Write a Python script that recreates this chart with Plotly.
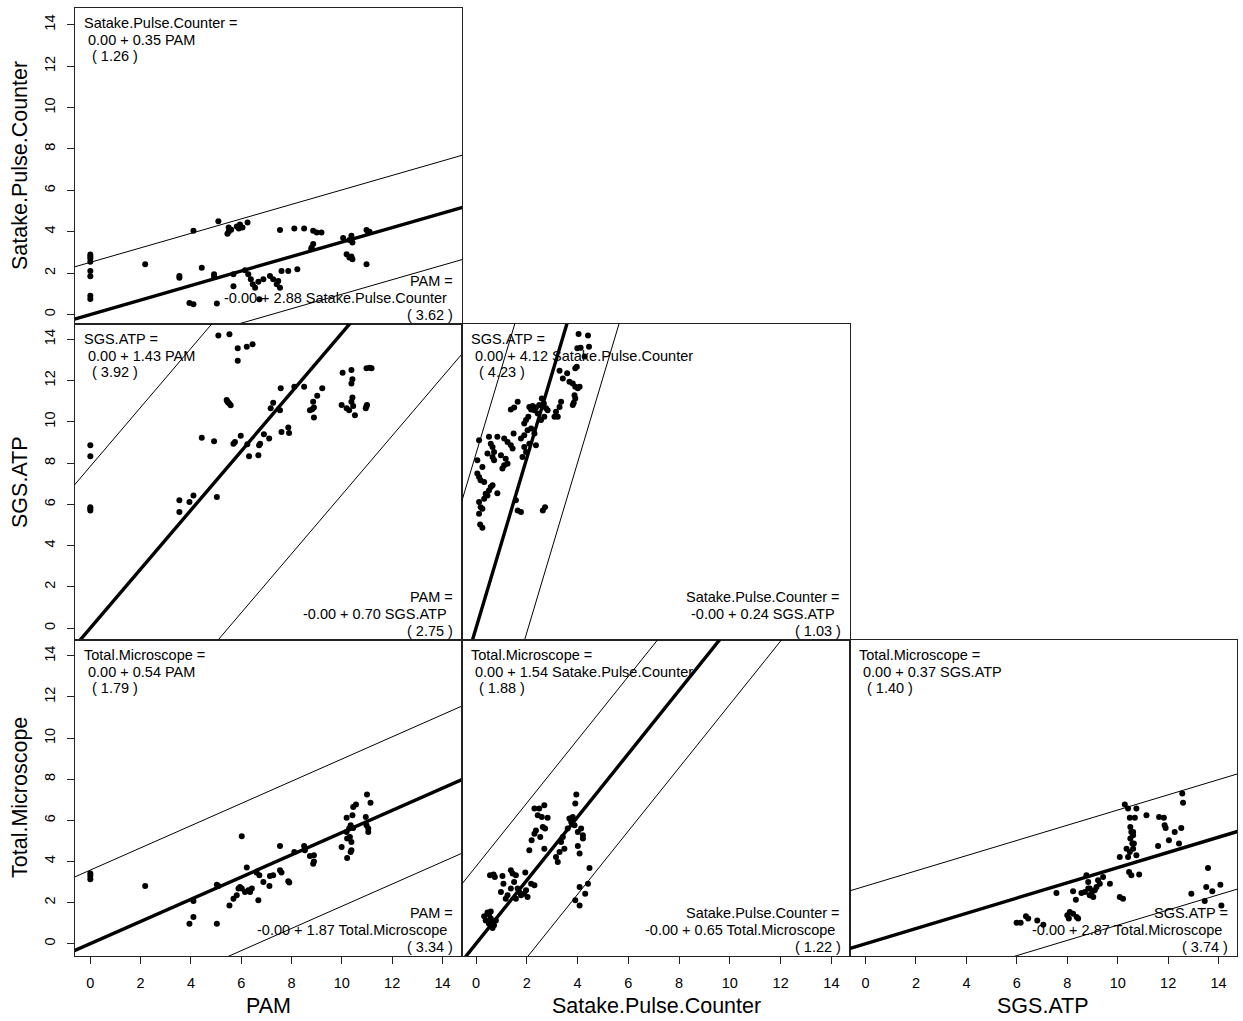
import plotly.graph_objects as go

# ---------------- data ----------------
var_names = ["PAM", "Satake.Pulse.Counter", "SGS.ATP", "Total.Microscope"]
tick_vals = [0, 2, 4, 6, 8, 10, 12, 14]

# Panel A: x = PAM, y = Satake.Pulse.Counter
a_x = [0, 0, 0, 0, 0, 0, 0, 0,
       2.18, 3.54, 3.54, 4.10, 3.94, 4.10, 4.43, 4.92, 4.92, 5.03, 5.09,
       5.45, 5.50, 5.60, 5.50, 5.82, 5.95, 6.05, 6.25, 5.90, 5.69, 5.69,
       6.15, 6.28, 6.38, 6.46, 6.55, 6.72, 6.68, 6.88,
       7.14, 7.27, 7.41, 7.54, 7.47, 7.54, 7.60, 7.87, 8.23, 8.11, 8.50,
       8.86, 9.00, 9.19, 8.80, 8.86, 8.78,
       10.05, 10.38, 10.42, 10.30, 10.19, 10.30, 10.42, 10.38, 10.98,
       10.98, 11.10, 11.05]
a_y = [2.90, 2.80, 2.70, 2.55, 2.10, 1.85, 0.90, 0.75,
       2.43, 1.86, 1.78, 4.05, 0.56, 0.49, 2.26, 1.94, 1.81, 0.53, 4.50,
       3.90, 4.00, 4.10, 4.20, 4.25, 4.35, 4.20, 4.45, 4.15, 1.94, 1.37,
       2.14, 1.94, 1.70, 1.46, 1.29, 0.73, 1.58, 1.70,
       1.86, 1.70, 1.46, 1.29, 1.62, 4.08, 2.10, 2.10, 2.19, 4.16, 4.16,
       4.05, 3.96, 3.96, 3.24, 3.40, 3.16,
       3.69, 3.80, 3.48, 3.60, 2.91, 2.75, 2.67, 2.80, 2.43,
       4.08, 4.00, 3.95]

# Panel B: x = PAM, y = SGS.ATP
b_x = [0, 0, 0, 0, 0,
       3.54, 3.94, 4.10, 3.54, 4.43, 4.92, 5.03, 5.09, 5.53,
       5.86, 6.22, 6.45, 5.86, 5.42, 5.47, 5.52, 5.58, 5.45,
       5.69, 5.75, 5.98, 6.24, 6.31, 6.68, 6.71, 6.75, 6.90, 7.11,
       7.17, 7.27, 7.54, 7.57, 7.60, 7.87, 7.90, 8.11, 8.50,
       8.73, 8.86, 8.89, 8.89, 8.82, 9.02, 9.22,
       10.03, 10.38, 10.42, 10.38, 9.99, 10.19, 10.29, 10.38, 10.42, 10.45, 10.52,
       10.98, 11.11, 11.18, 10.95, 10.98, 11.00]
b_y = [8.86, 8.33, 5.86, 5.78, 5.70,
       6.19, 6.11, 6.43, 5.62, 9.22, 9.06, 6.35, 14.18, 14.24,
       13.56, 13.64, 13.76, 12.96, 11.05, 10.95, 10.88, 10.80, 10.98,
       8.94, 9.02, 9.32, 8.91, 8.33, 8.38, 8.86, 8.94, 9.40, 9.19,
       10.65, 10.92, 10.56, 11.62, 9.51, 9.72, 9.46, 11.70, 11.70,
       10.56, 10.97, 10.69, 10.21, 10.61, 11.26, 11.62,
       12.38, 12.51, 12.06, 11.86, 10.81, 10.65, 10.56, 10.97, 11.18, 10.76, 10.32,
       12.59, 12.62, 12.59, 10.65, 10.76, 10.81]

# Panel C: x = Satake.Pulse.Counter, y = SGS.ATP
c_x = [4.04, 4.41, 3.99, 4.12, 4.45, 4.28,
       3.29, 3.59, 3.91, 3.97, 3.42, 3.68, 3.81, 3.91, 4.01, 4.08,
       3.88, 3.91, 3.85, 3.81, 3.35, 3.29, 3.15, 3.09, 3.22,
       2.10, 2.23, 2.36, 2.49, 2.59, 2.67, 2.76, 2.82,
       2.69, 2.56, 2.43, 2.30, 2.17, 2.06, 1.97, 1.90,
       1.64, 1.37, 1.50,
       1.48, 1.77, 1.90, 2.03, 2.17, 2.30, 1.90, 1.97, 2.10, 2.36, 1.83,
       0.12, 0.51, 0.58, 0.65, 0.84, 1.11, 1.24, 1.37, 1.44, 0.71,
       0.65, 0.98, 1.17, 1.24, 1.04, 1.11, 0.05, 0.25, 0.45, 0.71,
       0.05, 0.12, 0.18, 0.32, 0.38, 0.45, 0.51, 0.58, 0.65, 0.84,
       0.12, 0.18, 0.25, 0.32, 0.12, 0.16, 0.25,
       1.57, 1.64, 1.77, 2.63, 2.72]
c_y = [14.26, 14.18, 13.56, 13.59, 13.64, 13.16,
       12.47, 12.35, 12.59, 12.67, 12.10, 11.94, 11.86, 11.70, 11.62, 11.70,
       11.29, 11.13, 10.92, 10.81, 10.97, 10.72, 10.48, 10.24, 10.24,
       10.72, 10.76, 10.69, 10.81, 11.13, 10.89, 10.65, 10.56,
       10.24, 10.08, 10.40, 10.56, 10.60, 10.24, 10.08, 9.92,
       10.97, 10.60, 10.69,
       9.43, 9.19, 9.35, 9.59, 9.67, 9.43, 8.78, 8.54, 8.94, 8.86, 8.29,
       9.11, 9.27, 8.94, 8.78, 9.27, 9.19, 9.02, 8.86, 8.70, 8.54,
       8.29, 8.38, 8.21, 7.97, 7.73, 7.89, 8.13, 7.81, 8.46, 8.13,
       7.49, 7.32, 7.16, 7.08, 6.51, 6.43, 6.67, 6.84, 6.92, 6.54,
       6.11, 5.86, 5.78, 6.27, 5.54, 5.02, 4.86,
       6.19, 5.70, 5.62, 5.70, 5.86]

# Panel D: x = PAM, y = Total.Microscope
d_x = [0, 0, 0, 2.18, 3.94, 4.10, 4.10, 5.03, 5.03, 5.09,
       5.53, 5.69, 5.82, 5.89, 5.95, 6.02, 6.15, 6.28, 6.35, 6.42, 6.68, 6.22, 6.02,
       6.61, 6.72, 6.88, 7.12, 7.14, 7.27, 7.54, 7.54, 7.60, 7.87, 7.91,
       8.11, 8.50, 8.53, 8.73, 8.89, 8.86, 8.89,
       9.99, 10.19, 10.19, 10.21, 10.29, 10.35, 10.38, 10.38, 10.42, 10.45, 10.56,
       10.32, 10.45, 10.35, 10.21,
       11.00, 11.14, 10.95, 10.98, 11.05, 11.05]
d_y = [3.41, 3.29, 3.13, 2.80, 0.97, 1.30, 2.07, 0.97, 2.87, 2.80,
       1.86, 2.19, 2.35, 2.68, 2.76, 2.68, 2.51, 2.60, 2.51, 2.68, 2.11, 3.70, 5.22,
       3.46, 3.33, 3.00, 2.80, 3.29, 3.33, 4.75, 3.57, 3.46, 3.03, 2.97,
       4.46, 4.75, 4.54, 4.27, 4.30, 3.89, 4.00,
       4.70, 6.12, 5.43, 4.17, 5.60, 5.76, 4.95, 4.54, 6.25, 6.65, 6.77,
       5.19, 5.63, 4.46, 5.11,
       7.25, 6.85, 6.16, 5.76, 5.60, 5.43]

# Panel E: x = Satake.Pulse.Counter, y = Total.Microscope
e_x = [0.32, 0.45, 0.51, 0.58, 0.65, 0.71, 0.51, 0.38, 0.78, 0.65, 0.58,
       0.55, 0.69, 0.74, 1.08, 1.04, 0.98, 1.17, 1.24, 1.37, 1.44, 1.50, 1.57,
       1.64, 1.70, 1.77, 1.90, 1.94, 1.97, 2.03, 2.17, 2.30, 1.37, 1.57,
       2.10, 2.19, 2.30, 2.36, 2.30, 2.49, 2.69, 2.43, 2.59, 2.82, 2.63, 2.72, 2.53, 2.69,
       3.15, 3.22, 3.29, 3.35, 3.42, 3.48, 3.61, 3.68, 3.81, 3.88,
       3.95, 3.91, 4.01, 4.08, 4.14, 4.21, 4.21, 4.01, 3.75,
       3.91, 4.08, 4.08, 4.30, 4.41, 4.47]
e_y = [1.33, 1.51, 1.41, 1.22, 1.05, 0.89, 0.97, 1.13, 1.13, 0.76, 1.57,
       3.33, 3.36, 3.24, 2.92, 3.29, 2.51, 2.19, 2.35, 3.57, 3.41, 3.00, 3.33,
       2.68, 2.51, 2.35, 2.43, 3.46, 2.60, 2.27, 2.92, 2.84, 2.68, 2.19,
       4.54, 5.03, 5.35, 5.51, 6.57, 6.57, 6.73, 6.25, 6.16, 6.12, 5.68, 5.60, 5.19, 4.62,
       4.22, 3.97, 4.46, 4.95, 5.19, 4.62, 5.60, 6.09, 6.16, 5.76,
       7.25, 6.82, 4.75, 4.38, 5.60, 5.27, 5.11, 5.43, 5.92,
       2.11, 1.86, 2.76, 2.43, 2.92, 3.68]

# Panel F: x = SGS.ATP, y = Total.Microscope
f_x = [5.99, 6.15, 6.36, 6.45, 6.81, 7.05, 7.57,
       8.00, 8.10, 8.23, 8.37, 8.43, 8.06,
       8.23, 8.34, 8.56, 8.70, 8.76, 8.83, 8.89, 8.89, 8.96, 9.03, 9.09,
       9.16, 9.22, 9.29, 9.42, 9.69, 8.83,
       10.08, 10.21, 10.08,
       10.28, 10.41, 10.48, 10.50, 10.54, 10.61, 10.50, 10.58, 10.61, 10.48,
       10.41, 10.74, 10.68, 10.61, 10.64, 10.74, 10.45, 10.54, 10.85, 10.35,
       11.14, 11.60, 11.64, 11.83, 11.86, 11.90, 12.03, 12.26, 12.43, 12.52,
       12.56, 12.59,
       12.92, 13.45, 13.51, 13.58, 13.75, 14.07, 14.11]
f_y = [1.02, 1.02, 1.33, 1.22, 1.13, 0.92, 2.46,
       1.38, 1.54, 1.46, 1.30, 1.22, 1.22,
       2.55, 2.14, 2.46, 2.51, 3.33, 3.00, 2.68, 2.35, 2.43, 2.27, 2.60,
       2.76, 3.08, 2.92, 3.24, 2.92, 2.68,
       2.27, 2.19, 4.22,
       6.77, 6.57, 6.12, 5.68, 5.43, 5.27, 5.11, 4.87, 4.62, 4.46,
       4.22, 6.57, 6.12, 5.43, 4.87, 4.30, 3.49, 3.33, 3.36, 4.62,
       6.25, 4.75, 6.16, 6.12, 5.76, 5.63, 5.03, 5.43, 4.87, 5.63,
       7.30, 6.86,
       2.43, 2.07, 2.76, 3.68, 2.55, 2.87, 1.86]

# fitted relations (slope, sd) of y on x, and the reverse fit text
slopes = [0.35, 1.43, 4.12, 0.54, 1.54, 0.37]
sds = [1.26, 3.92, 4.23, 1.79, 1.88, 1.40]
rev_slopes = [2.88, 0.70, 0.24, 1.87, 0.65, 2.87]
rev_sds = [3.62, 2.75, 1.03, 3.34, 1.22, 3.74]

# axis ranges (as in the reference panels)
col_ranges = [[-0.61, 14.79], [-0.54, 14.72], [-0.63, 14.73]]
row_ranges = [[-0.46, 14.81], [-0.58, 14.74], [-0.60, 14.77]]

# panel layout: (row, col, xvar index, yvar index, x data, y data)
panels = [
    (0, 0, 0, 1, a_x, a_y),
    (1, 0, 0, 2, b_x, b_y),
    (1, 1, 1, 2, c_x, c_y),
    (2, 0, 0, 3, d_x, d_y),
    (2, 1, 1, 3, e_x, e_y),
    (2, 2, 2, 3, f_x, f_y),
]

FONT = "Liberation Sans, Arial, sans-serif"
fig = go.Figure()
layout = dict(
    width=1243, height=1021,
    margin=dict(l=75, r=6, t=8, b=65, autoexpand=False),
    paper_bgcolor="white", plot_bgcolor="white",
    showlegend=False,
    font=dict(family=FONT, size=14.5, color="black"),
)
annotations = []

for k, (r, c, xi, yi, xs, ys) in enumerate(panels, start=1):
    xa = "x" if k == 1 else f"x{k}"
    ya = "y" if k == 1 else f"y{k}"
    xkey = "xaxis" if k == 1 else f"xaxis{k}"
    ykey = "yaxis" if k == 1 else f"yaxis{k}"
    xr = col_ranges[c]
    yr = row_ranges[r]
    layout[xkey] = dict(
        domain=[c / 3, (c + 1) / 3], anchor=ya, range=xr, automargin=False,
        showgrid=False, zeroline=False, showline=True, mirror=True,
        linecolor="#222", linewidth=1.2,
        ticks="outside" if r == 2 else "", ticklen=7, tickwidth=1, tickcolor="#222",
        tickvals=tick_vals, showticklabels=(r == 2),
        tickfont=dict(family=FONT, size=14.5, color="black"),
        ticklabelstandoff=6,
    )
    layout[ykey] = dict(
        domain=[1 - (r + 1) / 3, 1 - r / 3], anchor=xa, range=yr, automargin=False,
        showgrid=False, zeroline=False, showline=True, mirror=True,
        linecolor="#222", linewidth=1.2,
        ticks="outside" if c == 0 else "", ticklen=7, tickwidth=1, tickcolor="#222",
        tickvals=tick_vals, showticklabels=(c == 0), tickangle=-90,
        tickfont=dict(family=FONT, size=14.5, color="black"),
        ticklabelstandoff=6,
    )

    b = slopes[k - 1]
    sd = sds[k - 1]
    lx = [xr[0] - 2, xr[1] + 2]
    # thin limit lines
    for off in (2 * sd, -2 * sd):
        fig.add_trace(go.Scatter(
            x=lx, y=[b * v + off for v in lx], mode="lines",
            line=dict(color="black", width=1), xaxis=xa, yaxis=ya, hoverinfo="skip"))
    # thick fitted line
    fig.add_trace(go.Scatter(
        x=lx, y=[b * v for v in lx], mode="lines",
        line=dict(color="black", width=3.4), xaxis=xa, yaxis=ya, hoverinfo="skip"))
    # points
    fig.add_trace(go.Scatter(
        x=xs, y=ys, mode="markers",
        marker=dict(color="black", size=6, line=dict(width=0)),
        xaxis=xa, yaxis=ya, cliponaxis=True))

    xname = var_names[xi]
    yname = var_names[yi]
    top_lines = [f"{yname} =", f"0.00 + {b:.2f} {xname}", f"( {sd:.2f} )"]
    top_dx = [7, 11, 15]
    for i, t in enumerate(top_lines):
        annotations.append(dict(
            text=t, xref=f"{xa} domain", yref=f"{ya} domain", x=0, y=1,
            xanchor="left", yanchor="middle", showarrow=False,
            xshift=top_dx[i], yshift=-(15 + 16.7 * i),
            font=dict(family=FONT, size=14.5, color="black")))
    bot_lines = [f"{xname} =", f"-0.00 + {rev_slopes[k-1]:.2f} {yname}",
                 f"( {rev_sds[k-1]:.2f} )"]
    bot_dx = [-7.5, -13, -7]
    bot_dy = [43, 26, 9]
    for i, t in enumerate(bot_lines):
        annotations.append(dict(
            text=t, xref=f"{xa} domain", yref=f"{ya} domain", x=1, y=0,
            xanchor="right", yanchor="middle", showarrow=False,
            xshift=bot_dx[i], yshift=bot_dy[i],
            font=dict(family=FONT, size=14.5, color="black")))

# axis titles (x under bottom row, y left of first column)
x_title_axes = {0: "x4", 1: "x5", 2: "x6"}
y_title_axes = {0: "y", 1: "y2", 2: "y4"}
for c in range(3):
    annotations.append(dict(
        text=var_names[c], xref=f"{x_title_axes[c]} domain", yref="y6 domain",
        x=0.5, y=0, yshift=-50, xanchor="center", yanchor="middle",
        showarrow=False, font=dict(family=FONT, size=21.5, color="black")))
for r in range(3):
    annotations.append(dict(
        text=var_names[r + 1], xref="x domain", yref=f"{y_title_axes[r]} domain",
        x=0, y=0.5, xshift=-55, xanchor="center", yanchor="middle",
        textangle=-90, showarrow=False,
        font=dict(family=FONT, size=21.5, color="black")))

layout["annotations"] = annotations
fig.update_layout(**layout)
fig.write_html(
    "out.html",
    config={"displayModeBar": False},
    post_script="document.body.style.margin='0';document.body.style.overflow='hidden';",
)
